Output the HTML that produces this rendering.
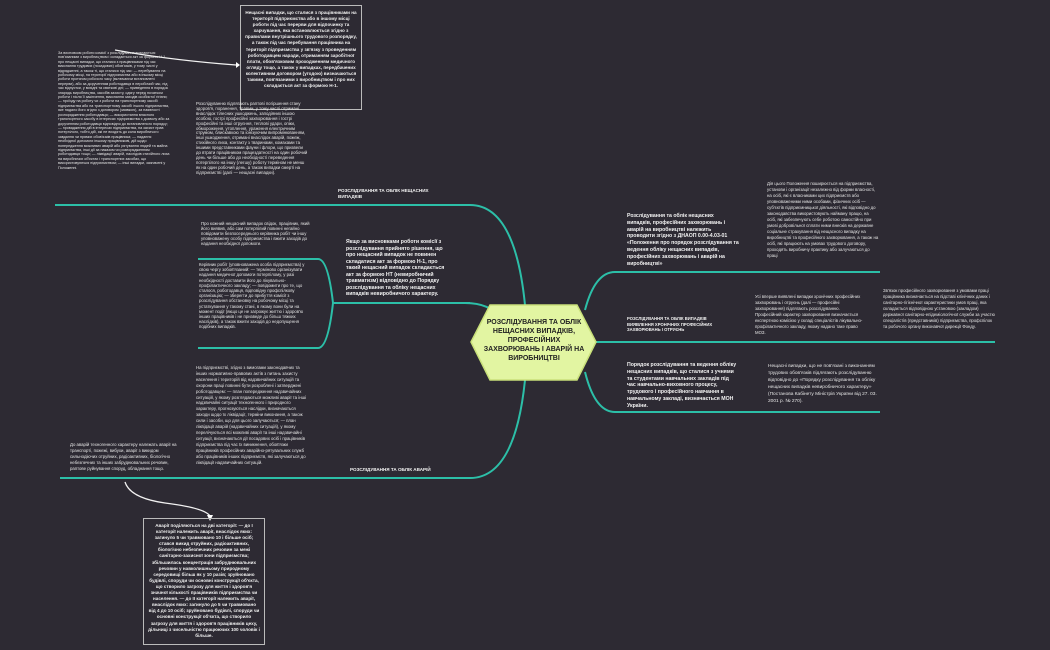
<!DOCTYPE html>
<html><head><meta charset="utf-8"><style>
body{margin:0;width:1050px;height:650px;background:#2d2a33;overflow:hidden;position:relative;font-family:"Liberation Sans","DejaVu Sans",sans-serif;color:#e4e4e4}
.t{position:absolute;font-size:4.3px;line-height:5px}
.b{font-weight:bold;font-size:5.2px;line-height:6.8px;color:#f2f2f2}
.c{text-align:center}
.box{position:absolute;border:1.5px solid #bbb;padding:4px;box-sizing:border-box;text-align:center;font-size:4.6px;line-height:6.1px;font-weight:bold;color:#eee}
</style></head><body>
<svg width="1050" height="650" style="position:absolute;left:0;top:0">
<g fill="none" stroke="#2cbfa8" stroke-width="2">
<path d="M55 205 H470 Q515 205 525 305"/>
<path d="M465 303 Q490 303 500 318"/>
<path d="M333 303 H470"/>
<path d="M198 259 H318 Q328 259 333 303 Q328 348 318 348 H198"/>
<path d="M60 478 H470 Q515 478 525 380"/>
<path d="M585 310 Q595 272 615 272 H880"/>
<path d="M596 342 H995"/>
<path d="M585 372 Q595 412 615 412 H880"/>
</g>
<polygon points="471,342 490,305 577,305 596,342 577,380 490,380" fill="#e2f5a2" stroke="#c9e07a" stroke-width="1.5"/>
<g fill="none" stroke="#f2f2f2" stroke-width="1.3">
<path d="M115 50 Q170 60 236 65"/>
<path d="M125 482 Q130 498 165 503 Q205 508 210 516"/>
</g>
<polygon points="236,62 240,65 236,68" fill="#fff"/>
<polygon points="207,515 213,515 210,521" fill="#fff"/>
</svg>
<div class="t c b" style="left:480px;top:318px;width:108px;font-size:7px;line-height:9px;color:#222">РОЗСЛІДУВАННЯ ТА ОБЛІК НЕЩАСНИХ ВИПАДКІВ, ПРОФЕСІЙНИХ ЗАХВОРЮВАНЬ І АВАРІЙ НА ВИРОБНИЦТВІ</div>

<div class="box" style="left:240px;top:5px;width:122px;height:105px">Нещасні випадки, що сталися з працівниками на території підприємства або в іншому місці роботи під час перерви для відпочинку та харчування, яка встановлюється згідно з правилами внутрішнього трудового розпорядку, а також під час перебування працівника на території підприємства у зв'язку з проведенням роботодавцем наради, отриманням заробітної плати, обов'язковим проходженням медичного огляду тощо, а також у випадках, передбачених колективним договором (угодою) визначаються такими, пов'язаними з виробництвом і про них складається акт за формою Н-1.</div>

<div class="t" style="left:58px;top:51px;width:112px;font-size:3.7px;line-height:4.4px">За висновком роботи комісії з розслідування визнаються пов'язаними з виробництвом і складається акт за формою Н-1 про нещасні випадки, що сталися з працівниками під час виконання трудових (посадових) обов'язків, у тому числі у відрядженні, а також ті, що сталися під час: — перебування на робочому місці, на території підприємства або в іншому місці роботи протягом робочого часу (включаючи встановлені перерви), або за дорученням роботодавця в неробочий час, під час відпустки, у вихідні та святкові дні; — приведення в порядок знарядь виробництва, засобів захисту, одягу перед початком роботи і після її закінчення, виконання заходів особистої гігієни; — проїзду на роботу чи з роботи на транспортному засобі підприємства або на транспортному засобі іншого підприємства, яке надало його згідно з договором (заявкою), за наявності розпорядження роботодавця; — використання власного транспортного засобу в інтересах підприємства з дозволу або за дорученням роботодавця відповідно до встановленого порядку; — провадження дій в інтересах підприємства, на захист прав потерпілого, тобто дій, які не входять до кола виробничого завдання чи прямих обов'язків працівника; — надання необхідної допомоги іншому працівникові, дій щодо попередження можливих аварій або рятування людей та майна підприємства, інші дії за наказом чи розпорядженням роботодавця тощо; — ліквідації аварій, наслідків стихійного лиха на виробничих об'єктах і транспортних засобах, що використовуються підприємством; — інші випадки, зазначені у Положенні.</div>

<div class="t" style="left:196px;top:102px;width:112px;line-height:4.9px">Розслідуванню підлягають раптові погіршення стану здоров'я, поранення, травми, у тому числі отримані внаслідок тілесних ушкоджень, заподіяних іншою особою, гострі професійні захворювання і гострі професійні та інші отруєння, теплові удари, опіки, обмороження, утоплення, ураження електричним струмом, блискавкою та іонізуючим випромінюванням, інші ушкодження, отримані внаслідок аварій, пожеж, стихійного лиха, контакту з тваринами, комахами та іншими представниками фауни і флори, що призвели до втрати працівником працездатності на один робочий день чи більше або до необхідності переведення потерпілого на іншу (легшу) роботу терміном не менш як на один робочий день, а також випадки смерті на підприємстві (далі — нещасні випадки).</div>

<div class="t b" style="left:338px;top:188px;width:115px;font-size:4.6px;line-height:6px">РОЗСЛІДУВАННЯ ТА ОБЛІК НЕЩАСНИХ ВИПАДКІВ</div>

<div class="t" style="left:201px;top:221px;width:110px">Про кожний нещасний випадок свідок, працівник, який його виявив, або сам потерпілий повинні негайно повідомити безпосереднього керівника робіт чи іншу уповноважену особу підприємства і вжити заходів до надання необхідної допомоги.</div>
<div class="t" style="left:199px;top:262px;width:114px;line-height:5.2px">Керівник робіт (уповноважена особа підприємства) у свою чергу зобов'язаний: — терміново організувати надання медичної допомоги потерпілому, у разі необхідності доставити його до лікувально-профілактичного закладу; — повідомити про те, що сталося, роботодавця, відповідну профспілкову організацію; — зберегти до прибуття комісії з розслідування обстановку на робочому місці та устаткування у такому стані, в якому вони були на момент події (якщо це не загрожує життю і здоров'ю інших працівників і не призведе до більш тяжких наслідків), а також вжити заходів до недопущення подібних випадків.</div>
<div class="t b" style="left:346px;top:239px;width:105px;line-height:6.5px">Якщо за висновками роботи комісії з розслідування прийнято рішення, що про нещасний випадок не повинен складатися акт за формою Н-1, про такий нещасний випадок складається акт за формою НТ (невиробничий травматизм) відповідно до Порядку розслідування та обліку нещасних випадків невиробничого характеру.</div>

<div class="t" style="left:196px;top:365px;width:112px;line-height:5.9px">На підприємстві, згідно з вимогами законодавчих та інших нормативно-правових актів з питань захисту населення і територій від надзвичайних ситуацій та охорони праці повинні бути розроблені і затверджені роботодавцем: — план попередження надзвичайних ситуацій, у якому розглядаються можливі аварії та інші надзвичайні ситуації техногенного і природного характеру, прогнозуються наслідки, визначаються заходи щодо їх ліквідації, терміни виконання, а також сили і засоби, що для цього залучаються; — план ліквідації аварій (надзвичайних ситуацій), у якому перелічуються всі можливі аварії та інші надзвичайні ситуації, визначаються дії посадових осіб і працівників підприємства під час їх виникнення, обов'язки працівників професійних аварійно-рятувальних служб або працівників інших підприємств, які залучаються до ліквідації надзвичайних ситуацій.</div>
<div class="t" style="left:70px;top:442px;width:112px;line-height:5.9px">До аварій техногенного характеру належать аварії на транспорті, пожежі, вибухи, аварії з викидом сильнодіючих отруйних, радіоактивних, біологічно небезпечних та інших забруднювальних речовин, раптове руйнування споруд, обладнання тощо.</div>
<div class="t b" style="left:350px;top:467px;width:110px;font-size:4.6px">РОЗСЛІДУВАННЯ ТА ОБЛІК АВАРІЙ</div>

<div class="box" style="left:143px;top:518px;width:122px;height:127px;line-height:6.1px">Аварії поділяються на дві категорії: — до I категорії належить аварії, внаслідок яких: загинуло 5 чи травмовано 10 і більше осіб; стався викид отруйних, радіоактивних, біологічно небезпечних речовин за межі санітарно-захисної зони підприємства; збільшилась концентрація забруднювальних речовин у навколишньому природному середовищі більш як у 10 разів; зруйновано будівлі, споруди чи основні конструкції об'єкта, що створило загрозу для життя і здоров'я значної кількості працівників підприємства чи населення. — до II категорії належить аварії, внаслідок яких: загинуло до 5 чи травмовано від 4 до 10 осіб; зруйновано будівлі, споруди чи основні конструкції об'єкта, що створило загрозу для життя і здоров'я працівників цеху, дільниці з чисельністю працюючих 100 чоловік і більше.</div>

<div class="t b" style="left:627px;top:213px;width:112px">Розслідування та облік нещасних випадків, професійних захворювань і аварій на виробництві належить проводити згідно з ДНАОП 0.00-4.03-01 «Положення про порядок розслідування та ведення обліку нещасних випадків, професійних захворювань і аварій на виробництві»</div>
<div class="t" style="left:767px;top:181px;width:112px;line-height:6px">Дія цього Положення поширюється на підприємства, установи і організації незалежно від форми власності, на осіб, які є власниками цих підприємств або уповноваженими ними особами, фізичних осіб — суб'єктів підприємницької діяльності, які відповідно до законодавства використовують найману працю, на осіб, які забезпечують себе роботою самостійно при умові добровільної сплати ними внесків на державне соціальне страхування від нещасного випадку на виробництві та професійного захворювання, а також на осіб, які працюють на умовах трудового договору, проходять виробничу практику або залучаються до праці</div>
<div class="t b" style="left:627px;top:316px;width:105px;font-size:4.2px;line-height:5.6px">РОЗСЛІДУВАННЯ ТА ОБЛІК ВИПАДКІВ ВИЯВЛЕННЯ ХРОНІЧНИХ ПРОФЕСІЙНИХ ЗАХВОРЮВАНЬ І ОТРУЄНЬ</div>
<div class="t" style="left:755px;top:294px;width:108px;line-height:6px">Усі вперше виявлені випадки хронічних професійних захворювань і отруєнь (далі — професійні захворювання) підлягають розслідуванню. Професійний характер захворювання визначається експертною комісією у складі спеціалістів лікувально-профілактичного закладу, якому надано таке право МОЗ.</div>
<div class="t" style="left:883px;top:288px;width:112px;line-height:6px">Зв'язок професійного захворювання з умовами праці працівника визначається на підставі клінічних даних і санітарно-гігієнічної характеристики умов праці, яка складається відповідною установою (закладом) державної санітарно-епідеміологічної служби за участю спеціалістів (представників) підприємства, профспілок та робочого органу виконавчої дирекції Фонду.</div>
<div class="t b" style="left:627px;top:362px;width:112px">Порядок розслідування та ведення обліку нещасних випадків, що сталися з учнями та студентами навчальних закладів під час навчально-виховного процесу, трудового і професійного навчання в навчальному закладі, визначається МОН України.</div>
<div class="t" style="left:768px;top:363px;width:112px;font-size:4.8px;line-height:7px">Нещасні випадки, що не пов'язані з виконанням трудових обов'язків підлягають розслідуванню відповідно до «Порядку розслідування та обліку нещасних випадків невиробничого характеру» (Постанова Кабінету Міністрів України від 27. 03. 2001 р. № 270).</div>
</body></html>
